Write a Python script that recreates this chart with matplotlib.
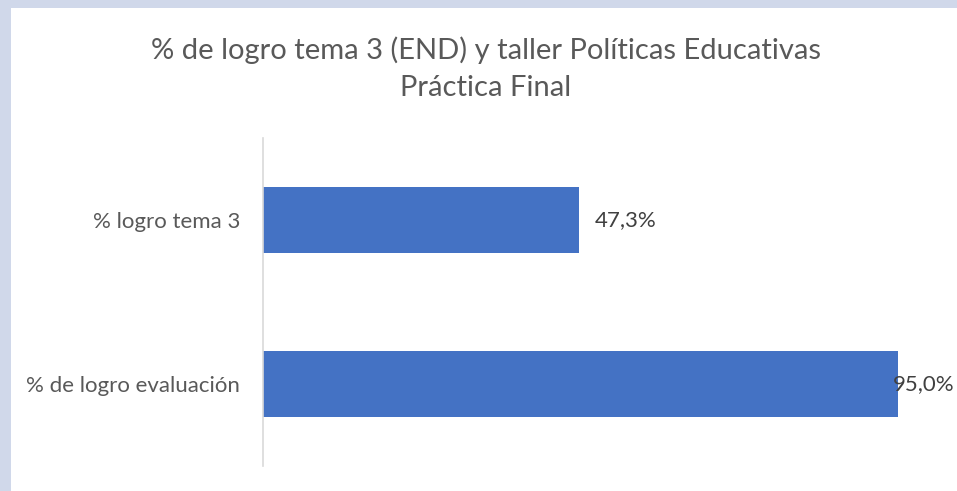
import matplotlib.pyplot as plt

# ===== データ =====
categories = ["% de logro evaluación", "% logro tema 3"]
values = [95.0, 47.3]
title_lines = ["% de logro tema 3 (END) y taller Políticas Educativas", "Práctica Final"]

plt.rcParams["font.family"] = ["Lato", "DejaVu Sans"]

fig = plt.figure(figsize=(9.57, 4.91), dpi=100)
fig.patch.set_facecolor("#D0D8EA")

# white chart area
bg = fig.add_axes([11 / 957, 0, 1 - 11 / 957, 1 - 8 / 491], zorder=0)
bg.set_facecolor("white")
bg.set_xticks([])
bg.set_yticks([])
for s in bg.spines.values():
    s.set_visible(False)

ax = fig.add_axes([263 / 957, 25 / 491, 668 / 957, 328 / 491], zorder=1)
ax.set_facecolor("none")
ax.barh(range(len(categories)), values, height=0.4, color="#4472C4")
ax.set_xlim(0, 100)
ax.set_ylim(-0.5, 1.5)
ax.set_yticks(range(len(categories)))
ax.set_yticklabels(categories, fontsize=16, color="#595959")
ax.tick_params(axis="y", length=0, pad=16.5)
ax.set_xticks([])
for s in ["top", "right", "bottom"]:
    ax.spines[s].set_visible(False)
ax.spines["left"].set_color("#D9D9D9")
ax.spines["left"].set_linewidth(1.2)

for i, v in enumerate(values):
    label = f"{v:.1f}%".replace(".", ",")
    off = 16 if v < 90 else -5
    ax.annotate(label, (v, i), xytext=(off, 0), textcoords="offset pixels",
                ha="left", va="center", fontsize=16, color="#404040")

# title, two lines
for line, yb in zip(title_lines, [59, 96]):
    fig.text(486 / 957, 1 - yb / 491, line, ha="center", va="baseline", fontsize=21,
             color="#595959")

plt.savefig("out.png", dpi=100)
